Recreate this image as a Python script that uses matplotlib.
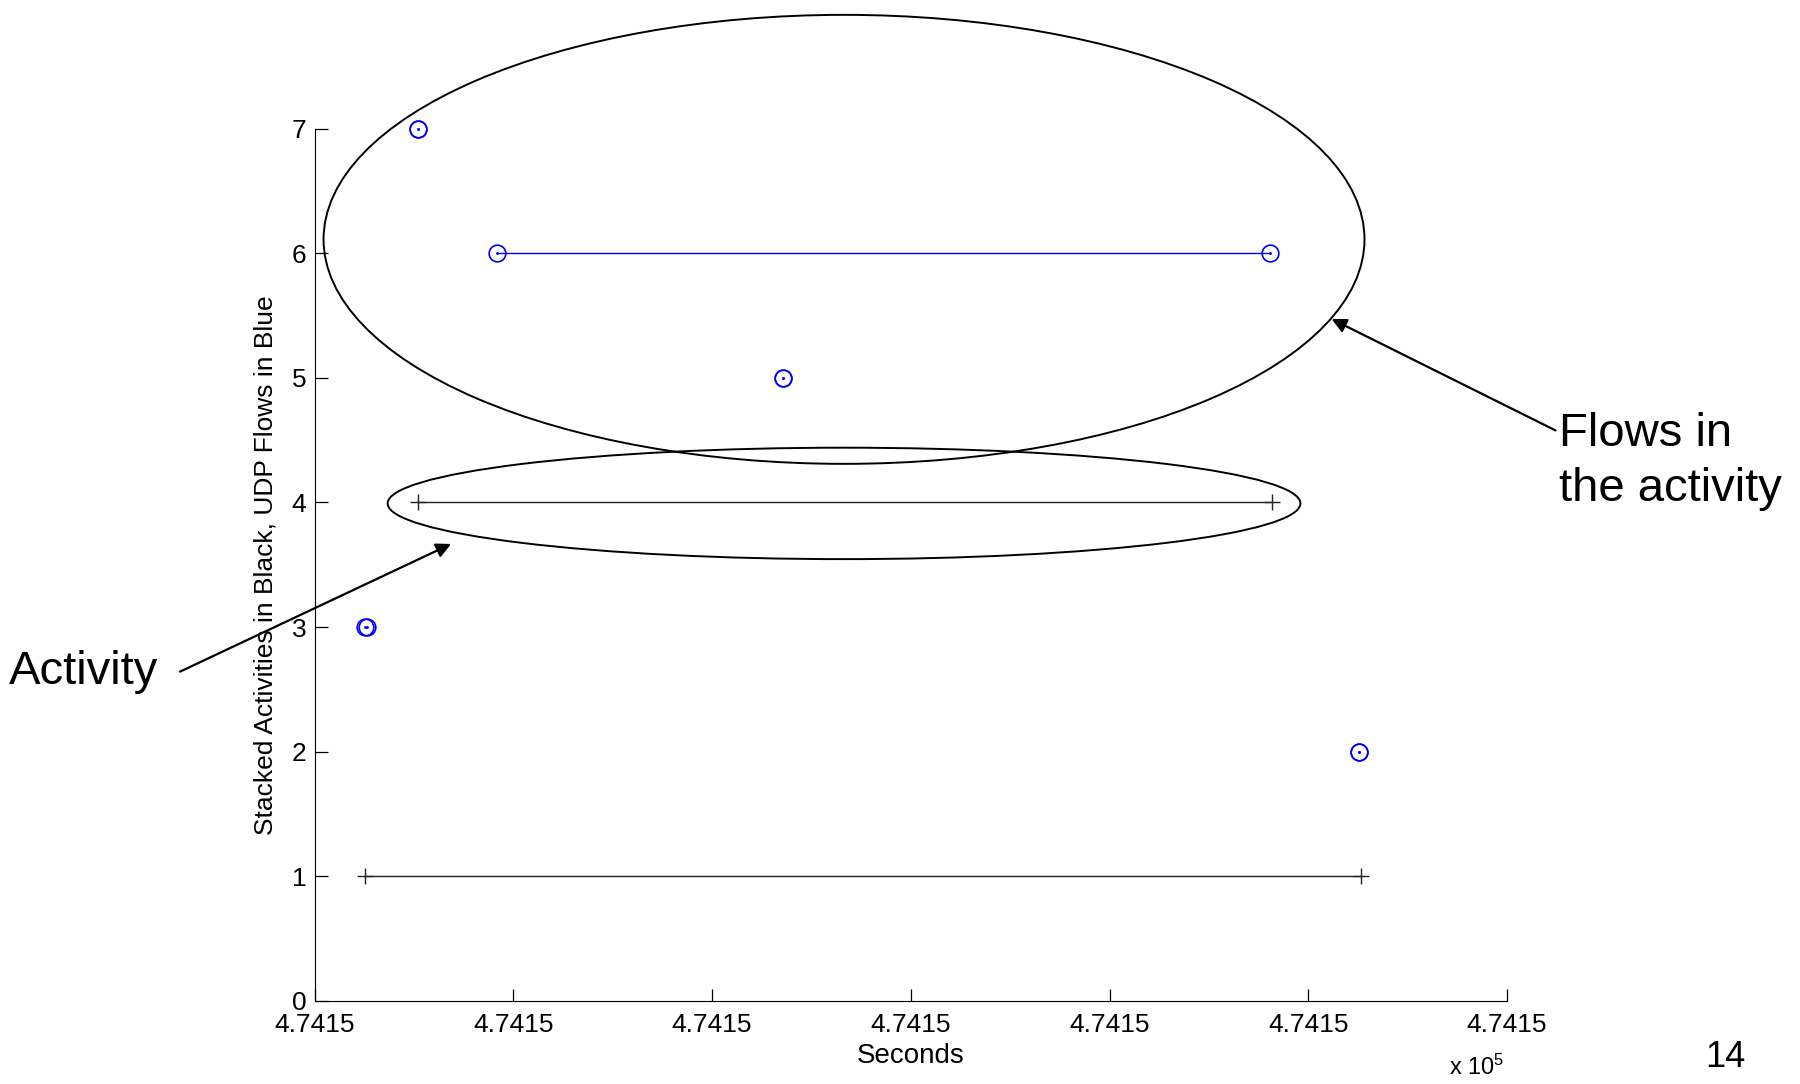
import numpy as np
import matplotlib
matplotlib.use("Agg")
import matplotlib.pyplot as plt
from matplotlib.patches import Ellipse
from matplotlib.ticker import FuncFormatter

plt.rcParams['font.family'] = ['Liberation Sans', 'DejaVu Sans']
plt.rcParams['mathtext.default'] = 'regular'

# activities (black) : row, start, end  (seconds)
activity_rows = [1, 4]
activity_start = [474150.127, 474150.260]
activity_end = [474152.633, 474152.410]

# UDP flows (blue) : row, start, end  (seconds)
flow_rows = [2, 3, 5, 6, 7]
flow_start = [474152.627, 474150.127, 474151.178, 474150.459, 474150.260]
flow_end = [474152.627, 474150.133, 474151.178, 474152.405, 474150.260]

x_ticks = np.arange(474150.0, 474153.01, 0.5)

fig = plt.figure(figsize=(18, 10.84), dpi=100)
ax = fig.add_axes([0.1748, 0.0766, 0.6624, 0.8048])

for r, s, e in zip(activity_rows, activity_start, activity_end):
    ax.plot([s, e], [r, r], color='#222222', lw=1.0, marker='+', ms=11, mew=1.0,
            clip_on=False)

for r, s, e in zip(flow_rows, flow_start, flow_end):
    ax.plot([s, e], [r, r], color='#0000ff', lw=1.0, marker='o', ms=12,
            mfc='none', mew=1.2, clip_on=False)
    ax.plot([s, e], [r, r], ls='none', color='#0000ff', marker='.', ms=2, clip_on=False)

ax.set_xlim(x_ticks[0], x_ticks[-1])
ax.set_ylim(0, 7)
ax.set_xticks(x_ticks)
ax.set_yticks(range(0, 8))
ax.xaxis.set_major_formatter(FuncFormatter(lambda v, p: f"{v / 1e5:.4f}"))
ax.spines['top'].set_visible(False)
ax.spines['right'].set_visible(False)
ax.tick_params(direction='in', length=9, width=0.9, labelsize=19, pad=6)
ax.tick_params(axis='x', pad=9)
ax.set_xlabel('Seconds', fontsize=20, labelpad=4)
ax.set_ylabel('Stacked Activities in Black, UDP Flows in Blue', fontsize=19, labelpad=10)

fig.text(0.8356, 0.0155, 'x 10$^5$', fontsize=17, ha='right', va='center')
fig.text(0.9585, 0.024, '14', fontsize=26, ha='center', va='center')

# annotations
fig.patches.append(Ellipse((0.4689, 0.7792), 0.5783, 0.4142, transform=fig.transFigure,
                           fill=False, ec='black', lw=1.4))
fig.patches.append(Ellipse((0.4689, 0.5356), 0.5071, 0.1028, transform=fig.transFigure,
                           fill=False, ec='black', lw=1.4))

arrow = dict(arrowstyle='-|>', color='black', lw=1.6, mutation_scale=22, shrinkA=0, shrinkB=0)
ax.annotate('', xy=(0.2506, 0.4982), xytext=(0.100, 0.3804),
            xycoords='figure fraction', textcoords='figure fraction', arrowprops=arrow)
ax.annotate('', xy=(0.7398, 0.7057), xytext=(0.8642, 0.6029),
            xycoords='figure fraction', textcoords='figure fraction', arrowprops=arrow)
fig.text(0.005, 0.3804, 'Activity', fontsize=34, ha='left', va='center')
fig.text(0.8661, 0.5743, 'Flows in\nthe activity', fontsize=34, ha='left', va='center',
         linespacing=1.32)

fig.savefig('out.png', dpi=100)
